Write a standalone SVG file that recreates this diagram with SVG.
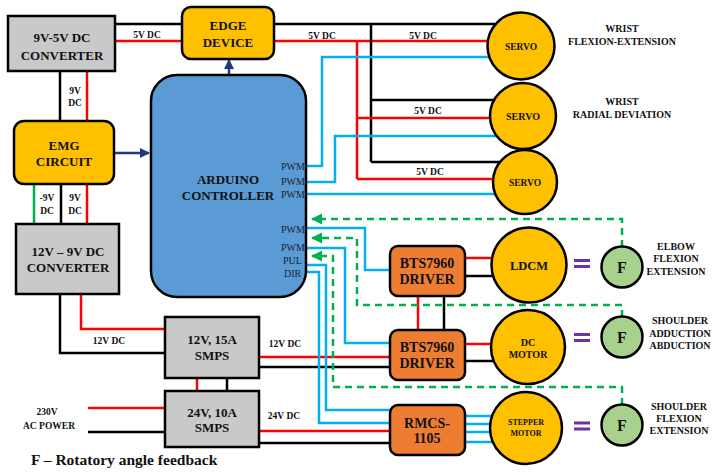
<svg xmlns="http://www.w3.org/2000/svg" width="718" height="475" viewBox="0 0 718 475">
<style>
.w{fill:none;stroke-width:2.5}
.r{stroke:#FF0000}.k{stroke:#000}.b{stroke:#00B0F0}
.gs{stroke:#00B050}
.g{stroke:#00B050;stroke-dasharray:7 5}
.n{stroke:#000;stroke-width:2.5}
.gray{fill:#C9C9C9}.gold{fill:#FFC000}.org{fill:#ED7D31}.blu{fill:#5B9BD5}.grn{fill:#A9D18E}
text{font-family:"Liberation Serif","Times New Roman",serif;font-weight:bold;fill:#111;text-anchor:middle}
.t13{font-size:13px}.t14{font-size:14px}.t10{font-size:10px}.t9{font-size:9.5px}
.pin{font-size:10px;font-weight:normal;text-anchor:start;fill:#1a2433}
.eq{stroke:#7030A0;stroke-width:3.2}
</style>
<defs>
<marker id="an" viewBox="0 0 10 10" refX="9" refY="5" markerWidth="4" markerHeight="4" orient="auto" markerUnits="strokeWidth"><path d="M0 0L10 5L0 10z" fill="#1F3A78"/></marker>
<marker id="ag" viewBox="0 0 10 10" refX="9" refY="5" markerWidth="4.5" markerHeight="4.5" orient="auto" markerUnits="strokeWidth"><path d="M0 0L10 5L0 10z" fill="#00B050"/></marker>
</defs>
<rect width="718" height="475" fill="#fff"/>
<g id="connectors">
<path class="w k" d="M115 24H182"/>
<path class="w r" d="M115 41H182"/>
<path class="w k" d="M274 24H521"/>
<path class="w r" d="M274 41H521"/>
<path class="w k" d="M371 24V162M371 100H523M371 162H525"/>
<path class="w r" d="M357 41V179M357 118H523M357 179H525"/>
<path class="w b" d="M306 166H322V57H521"/>
<path class="w b" d="M306 182H335V136H523"/>
<path class="w b" d="M306 194H525"/>
<path class="w k" d="M60 71V121"/>
<path class="w r" d="M87 71V121"/>
<path class="w gs" d="M34 184V224"/>
<path class="w k" d="M61 184V224"/>
<path class="w r" d="M87 184V224"/>
<path class="w k" d="M60 294V353H165"/>
<path class="w r" d="M81 294V329H165"/>
<path class="w r" d="M197 378V391"/>
<path class="w k" d="M227 378V391"/>
<path class="w r" d="M88 408H165"/>
<path class="w k" d="M88 432H165"/>
<path class="w r" d="M259 357H390"/>
<path class="w k" d="M259 367H390"/>
<path class="w r" d="M259 431H390"/>
<path class="w k" d="M259 443H390"/>
<path class="w r" d="M418 295V330"/>
<path class="w k" d="M444 295V330"/>
<path class="w r" d="M465 258H529"/>
<path class="w k" d="M465 276H529"/>
<path class="w r" d="M465 344H528"/>
<path class="w k" d="M465 361H528"/>
<path class="w b" d="M465 416H526M465 424H526M465 432H526M465 442H526"/>
<path class="w b" d="M306 228H365V270H390"/>
<path class="w b" d="M306 248H345V343H390"/>
<path class="w b" d="M306 265H326V410H390"/>
<path class="w b" d="M306 272H319V423H390"/>
<path class="w g" d="M622 247V219H312" marker-end="url(#ag)"/>
<path class="w g" d="M622 317V305H357V238H312" marker-end="url(#ag)"/>
<path class="w g" d="M622 405V387H333V256H312" marker-end="url(#ag)"/>
<path class="w" stroke="#1F3A78" d="M114 153H149" marker-end="url(#an)"/>
<path class="w" stroke="#1F3A78" d="M229 75V60" marker-end="url(#an)"/>
</g>
<g id="conv95"><rect class="gray n" x="8" y="16" width="107" height="55"/><text class="t13" x="62" y="42">9V-5V DC</text><text class="t13" x="62" y="60">CONVERTER</text></g>
<g id="edge"><rect class="gold n" x="182" y="7" width="92" height="52" rx="9"/><text class="t13" x="228" y="30">EDGE</text><text class="t13" x="228" y="47">DEVICE</text></g>
<g id="arduino"><rect class="blu n" x="151" y="75" width="155" height="222" rx="26"/><text class="t13" x="228" y="184">ARDUINO</text><text class="t13" x="228" y="200">CONTROLLER</text>
<text class="pin" x="281" y="170">PWM</text><text class="pin" x="281" y="185">PWM</text><text class="pin" x="281" y="198">PWM</text><text class="pin" x="281" y="233">PWM</text><text class="pin" x="281" y="251">PWM</text><text class="pin" x="283" y="264">PUL</text><text class="pin" x="284" y="277">DIR</text></g>
<g id="emg"><rect class="gold n" x="14" y="121" width="100" height="63" rx="10"/><text class="t13" x="64" y="150">EMG</text><text class="t13" x="64" y="166">CIRCUIT</text></g>
<g id="conv129"><rect class="gray n" x="16" y="224" width="103" height="70"/><text class="t13" x="68" y="256">12V – 9V DC</text><text class="t13" x="68" y="272">CONVERTER</text></g>
<g id="smps12"><rect class="gray n" x="165" y="317" width="94" height="61"/><text class="t13" x="212" y="344">12V, 15A</text><text class="t13" x="212" y="360">SMPS</text></g>
<g id="smps24"><rect class="gray n" x="165" y="391" width="94" height="56"/><text class="t13" x="212" y="417">24V, 10A</text><text class="t13" x="212" y="432">SMPS</text></g>
<g id="bts1"><rect class="org n" x="390" y="246" width="75" height="50" rx="8"/><text class="t14" x="427" y="268">BTS7960</text><text class="t14" x="427" y="284">DRIVER</text></g>
<g id="bts2"><rect class="org n" x="390" y="330" width="75" height="50" rx="8"/><text class="t14" x="427" y="352">BTS7960</text><text class="t14" x="427" y="368">DRIVER</text></g>
<g id="rmcs"><rect class="org n" x="390" y="405" width="75" height="50" rx="8"/><text class="t14" x="427" y="428">RMCS-</text><text class="t14" x="427" y="443">1105</text></g>
<g id="servo1"><circle class="gold n" cx="521" cy="46" r="33.5"/><text class="t9" x="521" y="50">SERVO</text></g>
<g id="servo2"><circle class="gold n" cx="523" cy="116" r="33"/><text class="t10" x="523" y="120">SERVO</text></g>
<g id="servo3"><circle class="gold n" cx="525" cy="182" r="32"/><text class="t9" x="525" y="186">SERVO</text></g>
<g id="ldcm"><circle class="gold n" cx="529" cy="265" r="37.5"/><text style="font-size:12.5px" x="529" y="270">LDCM</text></g>
<g id="dcmotor"><circle class="gold n" cx="528" cy="347" r="37"/><text class="t10" x="528" y="346">DC</text><text class="t10" x="528" y="358">MOTOR</text></g>
<g id="stepper"><circle class="gold n" cx="526" cy="428" r="36"/><text style="font-size:8px" x="526" y="425">STEPPER</text><text style="font-size:8px" x="526" y="436">MOTOR</text></g>
<g id="eq"><path class="eq" d="M574 260.5H590M574 266.5H590M574 334.5H590M574 340.5H590M574 423H590M574 429H590"/></g>
<g id="f1"><circle class="grn n" cx="622" cy="267" r="20.5"/><text style="font-size:16px" x="622" y="273">F</text></g>
<g id="f2"><circle class="grn n" cx="622" cy="337" r="20.5"/><text style="font-size:16px" x="622" y="343">F</text></g>
<g id="f3"><circle class="grn n" cx="622" cy="425" r="20.5"/><text style="font-size:16px" x="622" y="431">F</text></g>
<g id="labels">
<text class="t9" x="147" y="38">5V DC</text>
<text class="t9" x="322" y="39">5V DC</text>
<text class="t9" x="423" y="39">5V DC</text>
<text class="t9" x="428" y="114">5V DC</text>
<text class="t9" x="430" y="175">5V DC</text>
<text class="t9" x="75" y="94">9V</text><text class="t9" x="75" y="106">DC</text>
<text class="t9" x="47" y="201">-9V</text><text class="t9" x="47" y="214">DC</text>
<text class="t9" x="75" y="201">9V</text><text class="t9" x="75" y="214">DC</text>
<text class="t9" x="109" y="344">12V DC</text>
<text class="t9" x="285" y="347">12V DC</text>
<text class="t9" x="284" y="419">24V DC</text>
<text class="t9" x="47" y="415">230V</text><text class="t9" x="49" y="429">AC POWER</text>
<text class="t10" x="622" y="32">WRIST</text><text class="t10" x="622" y="45">FLEXION-EXTENSION</text>
<text class="t10" x="622" y="105">WRIST</text><text class="t10" x="622" y="118">RADIAL DEVIATION</text>
<text class="t10" x="676" y="250">ELBOW</text><text class="t10" x="676" y="262">FLEXION</text><text class="t10" x="676" y="275">EXTENSION</text>
<text class="t10" x="680" y="324">SHOULDER</text><text class="t10" x="680" y="337">ADDUCTION</text><text class="t10" x="680" y="349">ABDUCTION</text>
<text class="t10" x="679" y="410">SHOULDER</text><text class="t10" x="679" y="422">FLEXION</text><text class="t10" x="679" y="434">EXTENSION</text>
<text style="font-size:15.5px;text-anchor:start" x="31" y="465">F – Rotatory angle feedback</text>
</g>
</svg>
